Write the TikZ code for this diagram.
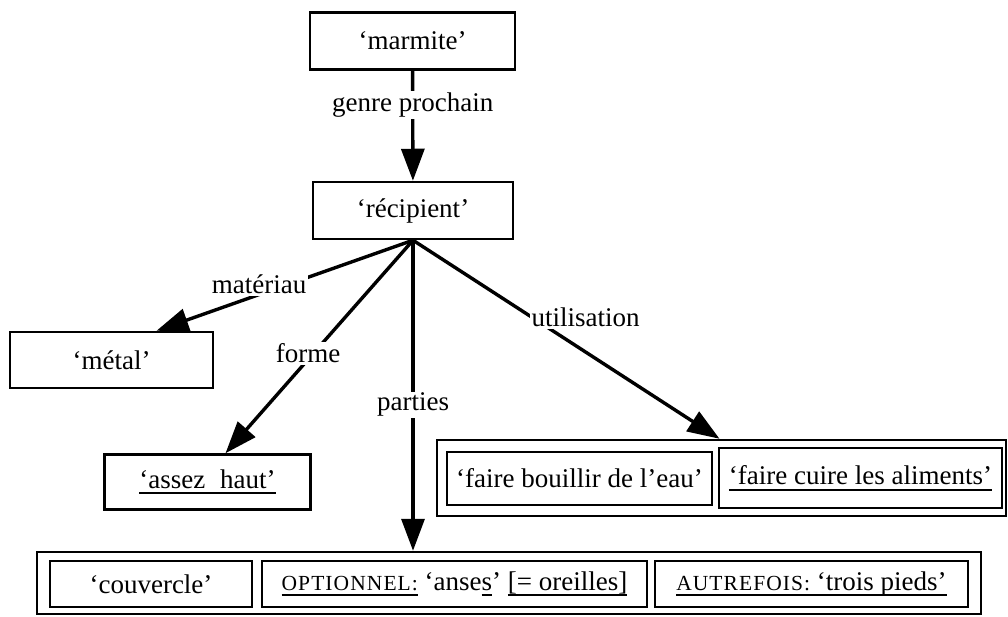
\documentclass[tikz,border=0pt]{standalone}
\usepackage{fontspec}
\setmainfont{Liberation Serif}
\newfontfamily\scfont[LetterSpace=5]{Liberation Serif}
\usetikzlibrary{arrows.meta}
\newcommand\ulx[1]{\setbox0\hbox{#1}\rlap{\rule[-6pt]{\wd0}{2pt}}\box0\relax}
\newcommand\smc[1]{{\scfont\fontsize{21.5}{24}\selectfont #1}}
\begin{document}
\begin{tikzpicture}[x=1pt,y=-1pt, font=\fontsize{27}{32}\selectfont,
  box/.style={draw, line width=2.5pt, inner sep=0pt, align=center},
  lab/.style={fill=white, inner sep=1.5pt},
  arr/.style={line width=3.4pt, -{Triangle[length=32pt,width=23pt]}}]
\useasboundingbox[fill=white] (0,0) rectangle (1008,616);
% main boxes
\node[box, minimum width=205pt, minimum height=57pt] (marmite) at (412.5,41) {‘marmite’};
\node[box, minimum width=200pt, minimum height=57pt] (recipient) at (413,210.5) {‘récipient’};
\node[box, minimum width=203pt, minimum height=56pt] (metal) at (111.5,360) {‘métal’};
\node[box, minimum width=206pt, minimum height=55pt] (haut) at (207.5,482) {\ulx{‘assez\hspace{0.3em} haut’}};
% utilisation group
\node[box, minimum width=569pt, minimum height=76pt] (util) at (721.5,478) {};
\node[box, minimum width=265pt, minimum height=53pt] (eau) at (579.5,478.5) {‘faire bouillir de l’eau’};
\node[box, minimum width=283pt, minimum height=60pt] (cuire) at (860.5,478) {\ulx{‘faire cuire les aliments’}};
% parties group
\node[box, minimum width=944pt, minimum height=62pt] (parties) at (509,583) {};
\node[box, minimum width=202pt, minimum height=46pt] (couv) at (151,584) {‘couvercle’};
\node[box, minimum width=385pt, minimum height=46pt] (anses) at (454.5,584) {\ulx{\smc{OPTIONNEL:}} ‘anse\ulx{s}’ \ulx{[= oreilles]}};
\node[box, minimum width=313pt, minimum height=46pt] (pieds) at (811.5,584) {\ulx{\smc{AUTREFOIS:} ‘trois pieds’}};
% connectors
\draw[arr] (marmite) -- (recipient) node[lab, pos=0.31] {genre prochain};
\draw[arr] (recipient.south) -- ([xshift=45pt]metal.north) node[lab, pos=0.6, yshift=10pt] {matériau};
\draw[arr] (recipient.south) -- ([xshift=18pt]haut.north) node[lab, pos=0.56, yshift=6pt] {forme};
\draw[arr] (recipient.south) -- (recipient.south |- parties.north) node[lab, pos=0.53] {parties};
\draw[arr] (recipient.south) -- ([xshift=-2pt]util.north) node[lab, pos=0.4, xshift=50pt, yshift=2pt] {utilisation};
\end{tikzpicture}
\end{document}
